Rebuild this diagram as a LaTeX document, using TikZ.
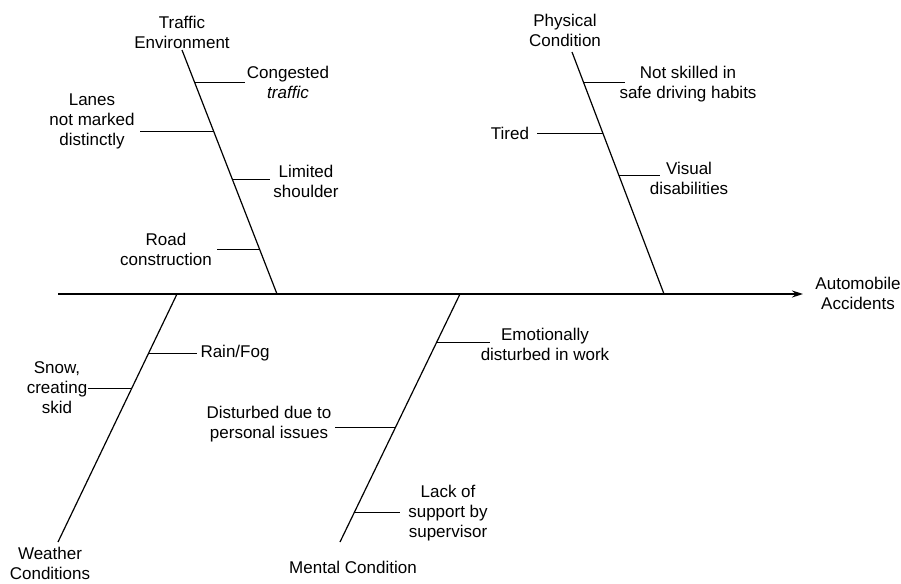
\documentclass[tikz,border=0pt]{standalone}
\usepackage{fontspec}
\setmainfont{Liberation Sans}
\usetikzlibrary{arrows.meta}
\begin{document}
\begin{tikzpicture}[x=1pt,y=-1pt,
  lbl/.style={align=center,inner sep=0pt,font=\fontsize{17}{20}\selectfont},
  spine/.style={line width=1.6pt},
  bone/.style={line width=1.2pt},
  twig/.style={line width=0.8pt}]
\useasboundingbox (0,0) rectangle (901,583);
% spine
\coordinate (s0) at (58,294);
\node[lbl] (effect) at (858,293) {Automobile\\Accidents};
\coordinate (s1) at (803,294);
\draw[spine,-{Stealth[length=11pt,width=7pt]}] (s0) -- (s1);
% Traffic environment
\node[lbl] (te) at (182,32) {Traffic\\Environment};
\coordinate (teT) at (182,50);
\coordinate (teB) at (277,294);
\draw[bone] (teT) -- (teB);
\coordinate (te1a) at (194.5,82);  \coordinate (te1b) at (245,82);
\coordinate (te2a) at (213.7,131); \coordinate (te2b) at (140,131);
\coordinate (te3a) at (232.4,179); \coordinate (te3b) at (270,179);
\coordinate (te4a) at (259.8,249); \coordinate (te4b) at (217,249);
\foreach \i in {1,2,3,4} \draw[twig] (te\i a) -- (te\i b);
\node[lbl] (te1) at (288,82) {Congested\\\textit{traffic}};
\node[lbl] (te2) at (92,121) {Lanes\\not marked\\distinctly};
\node[lbl] (te3) at (306,181) {Limited\\shoulder};
\node[lbl] (te4) at (166,249) {Road\\construction};
% Physical condition
\node[lbl] (pc) at (565,30) {Physical\\Condition};
\coordinate (pcT) at (572,52);
\coordinate (pcB) at (664,294);
\draw[bone] (pcT) -- (pcB);
\coordinate (pc1a) at (583.5,82); \coordinate (pc1b) at (625,82);
\coordinate (pc2a) at (602.9,133); \coordinate (pc2b) at (537,133);
\coordinate (pc3a) at (619,175);  \coordinate (pc3b) at (660,175);
\foreach \i in {1,2,3} \draw[twig] (pc\i a) -- (pc\i b);
\node[lbl] (pc1) at (688,84.5) {Not skilled in\\safe driving habits};
\node[lbl] (pc2) at (510,133) {Tired};
\node[lbl] (pc3) at (689,178.5) {Visual\\disabilities};
% Weather conditions
\node[lbl] (wc) at (50,563) {Weather\\Conditions};
\coordinate (wcT) at (177,294);
\coordinate (wcB) at (58,542);
\draw[bone] (wcT) -- (wcB);
\coordinate (wc1a) at (148.7,353); \coordinate (wc1b) at (197,353);
\coordinate (wc2a) at (131.9,388); \coordinate (wc2b) at (88,388);
\foreach \i in {1,2} \draw[twig] (wc\i a) -- (wc\i b);
\node[lbl] (wc1) at (235,353) {Rain/Fog};
\node[lbl] (wc2) at (57,388) {Snow,\\creating\\skid};
% Mental condition
\node[lbl] (mc) at (353,567) {Mental Condition};
\coordinate (mcT) at (460,294);
\coordinate (mcB) at (340,542);
\draw[bone] (mcT) -- (mcB);
\coordinate (mc1a) at (436.8,342); \coordinate (mc1b) at (490,342);
\coordinate (mc2a) at (395.6,427); \coordinate (mc2b) at (335,427);
\coordinate (mc3a) at (354.5,512); \coordinate (mc3b) at (400,512);
\foreach \i in {1,2,3} \draw[twig] (mc\i a) -- (mc\i b);
\node[lbl] (mc1) at (545,344.5) {Emotionally\\disturbed in work};
\node[lbl] (mc2) at (269,424.5) {Disturbed due to\\personal issues};
\node[lbl] (mc3) at (448,513) {Lack of\\support by\\supervisor};
\end{tikzpicture}
\end{document}
